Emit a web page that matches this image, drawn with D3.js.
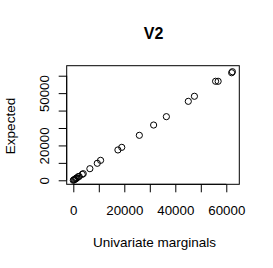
<!DOCTYPE html>
<html>
<head>
<meta charset="utf-8">
<script src="https://cdn.jsdelivr.net/npm/d3@7"></script>
<style>
  html, body { margin: 0; padding: 0; background: #fff; }
  svg { display: block; font-family: "Liberation Sans", Arial, sans-serif; }
</style>
</head>
<body>
<div id="chart"></div>
<script>
// values
const marginals = [0, 250, 550, 900, 1100, 1400, 1900, 2300, 3500, 3900, 6500, 9400, 10700,
                   17500, 19000, 25900, 31500, 36500, 45100, 47500, 55800, 56800, 62100, 62400];
const expected  = [0, 300, 500, 800, 1150, 1300, 2050, 2200, 3400, 3800, 6650, 9750, 11450,
                   17400, 18900, 25800, 31700, 36500, 45300, 48200, 56800, 56800, 61700, 62300];
const xTicks = [0, 10000, 20000, 30000, 40000, 50000, 60000];
const xLabels = [0, 20000, 40000, 60000];
const yTicks = [0, 10000, 20000, 30000, 40000, 50000, 60000];
const yLabels = [0, 20000, 50000];

const W = 273, H = 268;
const box = { left: 66.7, right: 239.3, top: 65.7, bottom: 184.3 };

const x = d3.scaleLinear().domain([-2590, 65100]).range([box.left, box.right]);
const y = d3.scaleLinear().domain([-2300, 65740]).range([box.bottom, box.top]);

const svg = d3.select('#chart').append('svg')
  .attr('width', W).attr('height', H);

// title
svg.append('text')
  .attr('x', 153.5).attr('y', 39)
  .attr('text-anchor', 'middle')
  .attr('font-size', 16).attr('font-weight', 'bold')
  .text('V2');

// box
svg.append('rect')
  .attr('x', box.left).attr('y', box.top)
  .attr('width', box.right - box.left).attr('height', box.bottom - box.top)
  .attr('fill', 'none').attr('stroke', '#000').attr('stroke-width', 1);

// x axis
const xa = svg.append('g').attr('transform', `translate(0,${box.bottom})`)
  .call(d3.axisBottom(x).tickValues(xTicks).tickSize(8).tickSizeOuter(0)
    .tickFormat(d => xLabels.includes(d) ? d : ''));
xa.select('.domain').attr('d', `M${x(0)},0H${x(60000)}`);
xa.selectAll('text').attr('font-size', 13.3).attr('font-family', null)
  .attr('y', 21).attr('dy', '0.71em');

// y axis
const ya = svg.append('g').attr('transform', `translate(${box.left},0)`)
  .call(d3.axisLeft(y).tickValues(yTicks).tickSize(8).tickSizeOuter(0)
    .tickFormat(d => yLabels.includes(d) ? d : ''));
ya.select('.domain').attr('d', `M0,${y(0)}V${y(60000)}`);
ya.selectAll('text').attr('font-size', 13.3).attr('font-family', null)
  .attr('x', null).attr('dy', null)
  .attr('text-anchor', 'middle')
  .attr('transform', 'translate(-18,0) rotate(-90)');

// points
svg.append('g').selectAll('circle')
  .data(marginals.map((m, i) => [m, expected[i]]))
  .join('circle')
  .attr('cx', d => x(d[0])).attr('cy', d => y(d[1]))
  .attr('r', 3.1)
  .attr('fill', 'none').attr('stroke', '#000').attr('stroke-width', 1);

// axis titles
svg.append('text')
  .attr('x', 154.5).attr('y', 246.5)
  .attr('text-anchor', 'middle').attr('font-size', 13.5)
  .text('Univariate marginals');

svg.append('text')
  .attr('transform', 'translate(14.5,126) rotate(-90)')
  .attr('text-anchor', 'middle').attr('font-size', 13.5)
  .text('Expected');
</script>
</body>
</html>
